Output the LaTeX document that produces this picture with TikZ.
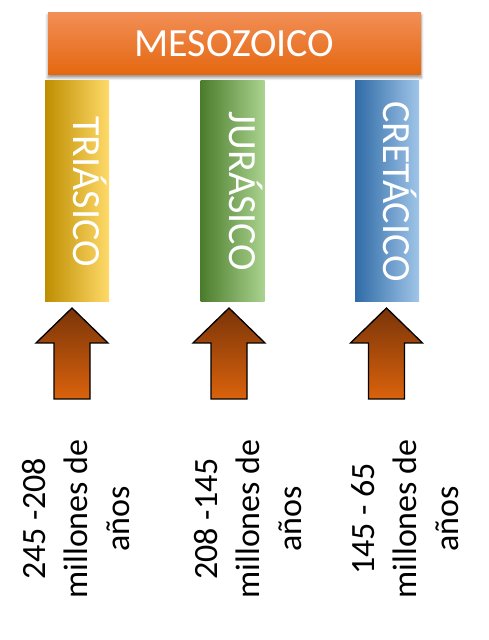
\documentclass[tikz,border=0pt]{standalone}
\usepackage{fontspec}
\setmainfont{Carlito}
\usepackage{tikz}
\usetikzlibrary{shadows.blur}

\definecolor{mesoTop}{HTML}{F28E55}
\definecolor{mesoMid}{HTML}{F47C26}
\definecolor{mesoBot}{HTML}{E4670F}
\definecolor{triasL}{HTML}{BE8E00}
\definecolor{triasM}{HTML}{FFC000}
\definecolor{triasR}{HTML}{FFDA6A}
\definecolor{jurasL}{HTML}{4B7C2C}
\definecolor{jurasM}{HTML}{72AE48}
\definecolor{jurasR}{HTML}{AAD38F}
\definecolor{cretaL}{HTML}{2F6BA7}
\definecolor{cretaM}{HTML}{5B9BD5}
\definecolor{cretaR}{HTML}{A0C5E8}
\definecolor{arrowTop}{HTML}{7A3509}
\definecolor{arrowBot}{HTML}{DA620C}

\begin{document}
\begin{tikzpicture}[x=1pt, y=1pt,
    bar/.style={minimum width=64pt, minimum height=221pt, inner sep=0pt},
    bartext/.style={rotate=-90, white, font=\fontsize{40}{48}\selectfont,
        text height=0.63em, text depth=0pt, inner sep=0pt},
    uparrow/.style={draw=black, line width=1.3pt, line join=miter,
        top color=arrowTop, bottom color=arrowBot},
    years/.style={rotate=90, align=center, inner sep=0pt,
        font=\fontsize{34}{42}\selectfont}]
    \useasboundingbox (0,0) rectangle (488,640);
    % banner
    \node[minimum width=373pt, minimum height=62pt, inner sep=0pt,
        top color=mesoTop, middle color=mesoMid, bottom color=mesoBot,
        blur shadow={shadow xshift=0pt, shadow yshift=-2.5pt,
            shadow blur radius=3pt, shadow opacity=45}]
        (meso) at (234.5,596) {};
    \node[white, font=\fontsize{40}{48}\selectfont, inner sep=0pt]
        (mesotxt) at (meso.center) {MESOZOICO};
    % the three periods
    \node[bar, left color=triasL, middle color=triasM, right color=triasR]
        (trias) at (77,448.5) {};
    \node[bartext] (triastxt) at (trias.center) {TRIÁSICO};
    \node[bar, left color=jurasL, middle color=jurasM, right color=jurasR]
        (juras) at (232.5,448.5) {};
    \node[bartext] (jurastxt) at (juras.center) {JURÁSICO};
    \node[bar, left color=cretaL, middle color=cretaM, right color=cretaR]
        (creta) at (387,448.5) {};
    \node[bartext] (cretatxt) at (creta.center) {CRETÁCICO};
    % arrows
    \draw[uparrow] (54,241) -- (54,297) -- (36,297) -- (72,332)
        -- (108,297) -- (90,297) -- (90,241) -- cycle;
    \draw[uparrow] (211,241) -- (211,297) -- (193,297) -- (229,332)
        -- (265,297) -- (247,297) -- (247,241) -- cycle;
    \draw[uparrow] (368.5,241) -- (368.5,297) -- (350.5,297) -- (386.5,332)
        -- (422.5,297) -- (404.5,297) -- (404.5,241) -- cycle;
    % ages
    \node[years] (triasage) at (76,121) {245 -208\\millones de\\años};
    \node[years] (jurasage) at (248,121) {208 -145\\millones de\\años};
    \node[years] (cretaage) at (405,121) {145 - 65\\millones de\\años};
\end{tikzpicture}
\end{document}
